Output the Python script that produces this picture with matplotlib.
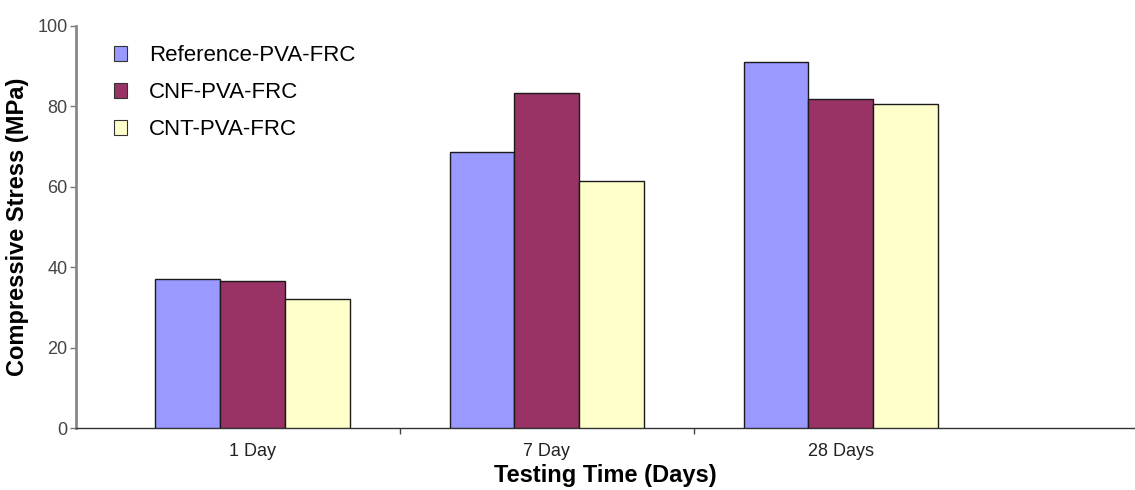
import numpy as np
import matplotlib.pyplot as plt
from matplotlib.patches import Patch

# Data
categories = ["1 Day", "7 Day", "28 Days"]
series_names = ["Reference-PVA-FRC", "CNF-PVA-FRC", "CNT-PVA-FRC"]
reference_pva = [37.0, 68.7, 91.0]
cnf_pva = [36.6, 83.4, 81.9]
cnt_pva = [32.0, 61.5, 80.7]
y_ticks = [0, 20, 40, 60, 80, 100]

colors = ["#9999FF", "#993366", "#FFFFCC"]

plt.rcParams['font.family'] = ['Liberation Sans', 'DejaVu Sans']

fig = plt.figure(figsize=(11.35, 4.9), dpi=100)
ax = fig.add_axes([0.067, 0.1265, 0.933, 0.8205])

x = np.arange(len(categories))
width = 0.22
values = [reference_pva, cnf_pva, cnt_pva]
for i, (vals, col) in enumerate(zip(values, colors)):
    ax.bar(x + (i - 1) * width, vals, width, color=col,
           edgecolor="#1a1a1a", linewidth=1.0, zorder=3)

ax.set_xlim(-0.6, 3.0)
ax.set_ylim(0, 100)
ax.set_yticks(y_ticks)
ax.set_yticklabels([str(v) for v in y_ticks], fontsize=13, color="#444444")

# category labels centered, ticks between categories
ax.set_xticks(x)
ax.set_xticklabels(categories, fontsize=13, color="#222222")
ax.tick_params(axis='x', which='major', length=0, pad=11)
ax.set_xticks([0.5, 1.5], minor=True)
ax.tick_params(axis='x', which='minor', length=4, width=1, color="#444444", direction='out')
ax.tick_params(axis='y', length=4, width=1, color="#777777", pad=2)

for side in ["top", "right"]:
    ax.spines[side].set_visible(False)
ax.spines["left"].set_color("#888888")
ax.spines["left"].set_linewidth(2.0)
ax.spines["bottom"].set_color("#333333")
ax.spines["bottom"].set_linewidth(1.0)

ax.set_ylabel("Compressive Stress (MPa)", fontsize=17, fontweight='bold', labelpad=6)
ax.set_xlabel("Testing Time (Days)", fontsize=17, fontweight='bold', labelpad=3)

handles = [Patch(facecolor=c, edgecolor="#333333", linewidth=0.8) for c in colors]
ax.legend(handles, series_names, loc='upper left', bbox_to_anchor=(0.023, 0.985),
          frameon=False, fontsize=16, handlelength=0.6, handleheight=0.6,
          handletextpad=1.0, labelspacing=0.72, borderaxespad=0.2)

fig.savefig("out.png", dpi=100, facecolor='white')
